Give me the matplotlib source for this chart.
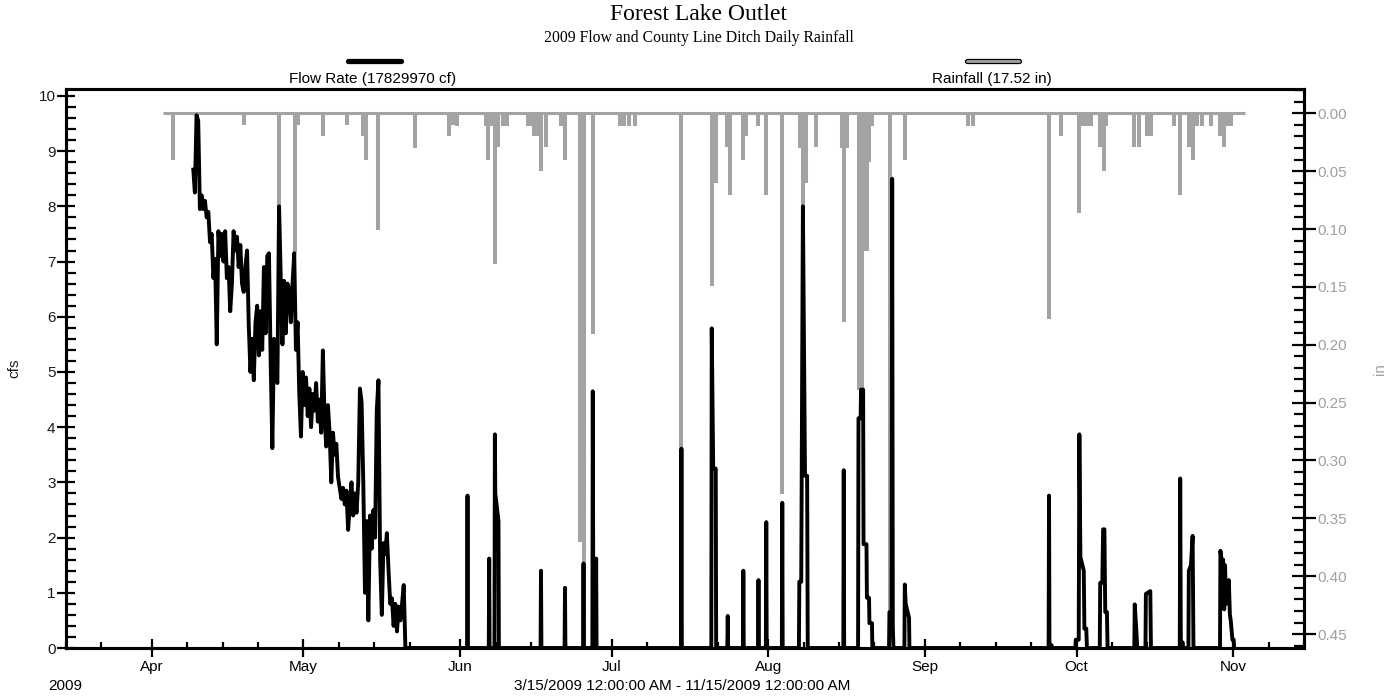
import matplotlib
matplotlib.use("Agg")
import matplotlib.pyplot as plt
import matplotlib.dates as mdates
from matplotlib.lines import Line2D
from matplotlib.ticker import MultipleLocator, FixedLocator, FuncFormatter
import pandas as pd
import numpy as np

plt.rcParams['font.family'] = ['Liberation Sans', 'DejaVu Sans']

# ---------------- text ----------------
title = "Forest Lake Outlet"
subtitle = "2009 Flow and County Line Ditch Daily Rainfall"
flow_label = "Flow Rate (17829970 cf)"
rain_label = "Rainfall (17.52 in)"
range_label = "3/15/2009 12:00:00 AM - 11/15/2009 12:00:00 AM"
year_label = "2009"
left_unit = "cfs"
right_unit = "in"
x_start, x_end = "2009-03-15", "2009-11-15"

# ---------------- flow: spring recession, 8-hourly readings ----------------
flow_recession_start = "2009-04-09 04:00"
flow_recession_step = "8h"
flow_recession = [
    8.7, 8.25, 9.65, 9.55, 7.95, 8.2, 7.95, 8.1, 7.8, 7.9,
    7.35, 7.5, 6.7, 7.05, 5.5, 7.55, 7.1, 7.5, 7.0, 7.55,
    6.7, 6.9, 6.1, 6.6, 7.55, 7.2, 7.45, 6.9, 7.3, 6.6,
    6.45, 6.9, 7.2, 5.85, 5.0, 5.6, 4.85, 5.9, 6.2, 5.3,
    6.1, 5.4, 6.9, 5.7, 7.1, 7.15, 5.2, 3.62, 5.6, 5.0,
    4.8, 8.0, 6.7, 5.5, 6.65, 5.7, 6.6, 6.5, 5.9, 6.6,
    7.15, 5.4, 5.9, 4.6, 3.83, 5.0, 4.4, 4.9, 4.2, 4.7,
    4.0, 4.6, 4.3, 4.8, 4.1, 4.5, 3.9, 5.39, 4.2, 3.65,
    4.4, 3.9, 3.0, 3.9, 3.5, 3.7, 3.1, 2.9, 2.7, 2.9,
    2.6, 2.85, 2.14, 2.6, 3.0, 2.4, 2.8, 2.45, 3.0, 4.7,
    4.45, 3.0, 1.0, 2.3, 0.5, 2.4, 1.8, 2.5, 2.0, 4.3,
    4.85, 1.6, 0.6, 1.9, 1.7, 2.08, 1.4, 0.8, 0.9, 0.4,
    0.8, 0.3, 0.75, 0.5, 0.8, 1.14, 0.0]

# ---------------- flow: summer / fall storm events ----------------
flow_event_times = [
    "06-02 09:00", "06-02 11:00", "06-02 13:00",
    "06-06 16:00", "06-06 18:00", "06-06 20:00",
    "06-07 19:00", "06-07 21:00", "06-07 23:00", "06-08 14:00", "06-08 16:00",
    "06-16 22:00", "06-17 00:00", "06-17 02:00",
    "06-21 16:00", "06-21 18:00", "06-21 20:00",
    "06-25 08:00", "06-25 10:00", "06-25 12:00",
    "06-27 04:00", "06-27 06:00", "06-27 09:00", "06-27 20:00", "06-27 22:00", "06-28 00:00",
    "07-14 17:00", "07-14 19:00", "07-14 21:00",
    "07-20 17:00", "07-20 19:00", "07-21 02:00", "07-21 14:00", "07-21 16:00",
    "07-23 21:00", "07-23 23:00", "07-24 01:00",
    "07-26 23:00", "07-27 01:00", "07-27 03:00",
    "07-29 23:00", "07-30 01:00", "07-30 03:00",
    "07-31 12:00", "07-31 14:00", "07-31 16:00",
    "08-03 16:00", "08-03 18:00", "08-03 20:00",
    "08-07 01:00", "08-07 03:00", "08-07 12:00", "08-07 20:00", "08-08 06:00", "08-08 16:00", "08-08 19:00",
    "08-15 20:00", "08-15 22:00", "08-16 00:00",
    "08-18 18:00", "08-18 20:00", "08-19 06:00", "08-19 08:00", "08-19 18:00", "08-19 20:00",
    "08-20 10:00", "08-20 12:00", "08-20 22:00", "08-21 00:00", "08-21 12:00", "08-21 14:00",
    "08-24 21:00", "08-24 23:00", "08-25 09:00", "08-25 12:00", "08-25 15:00", "08-25 18:00",
    "08-27 22:00", "08-28 00:00", "08-28 04:00", "08-28 20:00", "08-28 22:00",
    "09-25 11:00", "09-25 13:00", "09-25 15:00", "09-26 01:00", "09-26 03:00",
    "09-30 18:00", "09-30 20:00", "10-01 10:00", "10-01 13:00", "10-01 18:00", "10-02 10:00",
    "10-02 13:00", "10-02 22:00", "10-03 01:00",
    "10-05 14:00", "10-05 16:00", "10-06 02:00", "10-06 06:00", "10-06 12:00", "10-06 16:00",
    "10-07 00:00", "10-07 03:00",
    "10-12 10:00", "10-12 12:00", "10-12 20:00", "10-13 00:00",
    "10-14 15:00", "10-14 17:00", "10-15 14:00", "10-15 17:00",
    "10-21 10:00", "10-21 12:00", "10-21 15:00", "10-22 00:00", "10-22 02:00",
    "10-23 03:00", "10-23 05:00", "10-23 15:00", "10-23 23:00", "10-24 03:00",
    "10-29 09:00", "10-29 11:00", "10-29 20:00", "10-30 00:00", "10-30 05:00", "10-30 09:00",
    "10-30 14:00", "10-31 03:00", "10-31 08:00", "10-31 12:00", "10-31 20:00", "11-01 02:00",
    "11-01 04:00"]
flow_event_vals = [
    0, 2.76, 0,
    0, 1.62, 0,
    0, 3.87, 2.8, 2.3, 0,
    0, 1.40, 0,
    0, 1.09, 0,
    0, 1.53, 0,
    0, 4.65, 0, 0, 1.62, 0,
    0, 3.61, 0,
    0, 5.79, 3.25, 3.25, 0,
    0, 0.58, 0,
    0, 1.40, 0,
    0, 1.23, 0,
    0, 2.28, 0,
    0, 2.63, 0,
    0, 1.2, 1.2, 8.0, 3.12, 3.12, 0,
    0, 3.22, 0,
    0, 4.16, 4.16, 4.68, 4.68, 1.88,
    1.88, 0.91, 0.91, 0.45, 0.45, 0,
    0, 0.65, 0.65, 8.5, 0.4, 0,
    0, 1.15, 0.8, 0.55, 0,
    0, 2.76, 0.05, 0.05, 0,
    0, 0.15, 0.15, 3.87, 1.65, 1.4,
    0.35, 0.35, 0,
    0, 1.18, 1.18, 2.15, 2.15, 0.65,
    0.65, 0,
    0, 0.79, 0.3, 0,
    0, 0.98, 1.03, 0,
    0, 3.07, 0.1, 0.1, 0,
    0, 1.4, 1.5, 2.03, 0,
    0, 1.76, 1.5, 1.6, 0.7, 1.5,
    0.8, 1.23, 0.6, 0.5, 0.15, 0.15,
    0]

# ---------------- rainfall ----------------
rain_span = ["2009-04-03 04:00", "2009-11-03 10:00"]
rain_times = [
    "04-05 04:00", "04-19 04:00", "04-26 05:00", "04-29 06:00", "04-29 22:00",
    "05-04 22:00", "05-09 16:00", "05-12 17:00", "05-13 10:00", "05-15 19:00",
    "05-23 01:00", "05-29 19:00", "05-30 12:00", "05-31 11:00",
    "06-06 02:00", "06-06 12:00", "06-07 01:00", "06-07 20:00", "06-08 13:00",
    "06-09 10:00", "06-10 05:00", "06-14 10:00", "06-15 00:00", "06-15 14:00",
    "06-16 10:00", "06-16 23:00", "06-17 23:00", "06-21 00:00", "06-21 17:00",
    "06-24 19:00", "06-25 10:00", "06-27 05:00",
    "07-02 14:00", "07-03 12:00", "07-04 10:00", "07-05 14:00", "07-14 19:00",
    "07-20 19:00", "07-21 14:00", "07-23 20:00", "07-24 10:00", "07-26 23:00",
    "07-27 12:00", "07-29 22:00", "07-31 14:00",
    "08-03 18:00", "08-07 07:00", "08-07 20:00", "08-08 12:00", "08-10 12:00",
    "08-15 16:00", "08-16 00:00", "08-16 12:00", "08-19 00:00", "08-19 12:00",
    "08-20 02:00", "08-20 14:00", "08-21 00:00", "08-21 14:00", "08-25 04:00",
    "08-28 00:00",
    "09-09 14:00", "09-10 10:00", "09-25 13:00", "09-27 22:00",
    "10-01 13:00", "10-02 05:00", "10-03 00:00", "10-03 20:00", "10-05 14:00",
    "10-06 08:00", "10-06 21:00", "10-12 08:00", "10-13 08:00", "10-14 22:00",
    "10-15 17:00", "10-20 05:00", "10-21 12:00", "10-23 07:00", "10-23 23:00",
    "10-24 20:00", "10-25 20:00", "10-27 15:00", "10-29 10:00", "10-30 03:00",
    "10-30 19:00", "10-31 14:00"]
rain_vals = [
    0.040, 0.010, 0.082, 0.121, 0.010,
    0.020, 0.010, 0.020, 0.040, 0.101,
    0.030, 0.020, 0.010, 0.011,
    0.011, 0.040, 0.011, 0.130, 0.029,
    0.011, 0.011, 0.011, 0.011, 0.020,
    0.020, 0.050, 0.029, 0.011, 0.040,
    0.370, 0.390, 0.191,
    0.011, 0.011, 0.011, 0.011, 0.290,
    0.149, 0.060, 0.029, 0.071, 0.040,
    0.020, 0.011, 0.071,
    0.329, 0.030, 0.082, 0.060, 0.029,
    0.030, 0.180, 0.030, 0.239, 0.239,
    0.119, 0.119, 0.042, 0.011, 0.439,
    0.040,
    0.011, 0.011, 0.178, 0.020,
    0.086, 0.011, 0.011, 0.011, 0.029,
    0.050, 0.011, 0.029, 0.029, 0.020,
    0.020, 0.011, 0.071, 0.029, 0.040,
    0.011, 0.011, 0.011, 0.020, 0.029,
    0.011, 0.011]

# axis scales
flow_lim = (0, 10.12)
flow_major = list(range(0, 11))
rain_lim = (0.462, -0.0207)
rain_major = [0.00, 0.05, 0.10, 0.15, 0.20, 0.25, 0.30, 0.35, 0.40, 0.45]

# ---------------- build series ----------------
t_rec = pd.date_range(flow_recession_start, periods=len(flow_recession), freq=flow_recession_step)
t_evt = pd.to_datetime(["2009-" + s for s in flow_event_times])
flow_t = list(t_rec) + list(t_evt)
flow_v = list(flow_recession) + list(flow_event_vals)
rain_t = pd.to_datetime(["2009-" + s for s in rain_times])
rspan = pd.to_datetime(rain_span)

GRAY = "#a3a3a6"
LABEL_GRAY = "#a0a0a0"

W, H = 1398, 696
fig = plt.figure(figsize=(W / 100, H / 100), dpi=100)
L, R, T, B = 66, 1304, 89.3, 648
ax = fig.add_axes([L / W, (H - B) / H, (R - L) / W, (B - T) / H])
ax2 = ax.twinx()
ax.set_zorder(ax2.get_zorder() + 1)
ax.patch.set_visible(False)

# rainfall (right axis, inverted)
ax2.hlines(0, rspan[0], rspan[1], color=GRAY, lw=2.2)
ax2.vlines(rain_t, 0, rain_vals, color=GRAY, lw=2.9, capstyle='butt')
ax2.set_ylim(*rain_lim)

# flow (left axis)
ax.plot(flow_t, flow_v, color='black', lw=2.8, solid_joinstyle='round', solid_capstyle='butt')
ax.set_ylim(*flow_lim)
ax.set_xlim(pd.Timestamp(x_start), pd.Timestamp(x_end))

# spines
for a in (ax, ax2):
    for s in a.spines.values():
        s.set_linewidth(2.2)
        s.set_color('black')

# x ticks
ax.xaxis.set_major_locator(mdates.MonthLocator())
ax.xaxis.set_major_formatter(mdates.DateFormatter('%b'))
ax.xaxis.set_minor_locator(mdates.DayLocator(bymonthday=[8, 15, 22]))
ax.tick_params(axis='x', which='major', direction='inout', length=13, width=1.6,
               labelsize=11, pad=2, colors='black')
ax.tick_params(axis='x', which='minor', direction='in', length=4, width=1.6)

# left y ticks
ax.yaxis.set_major_locator(FixedLocator(flow_major))
ax.yaxis.set_minor_locator(MultipleLocator(0.2))
ax.tick_params(axis='y', which='major', direction='inout', length=13, width=1.6,
               labelsize=11, pad=1, labelcolor='#1a1a1a', right=False)
ax.tick_params(axis='y', which='minor', direction='in', length=7, width=1.6, right=False)

# right y ticks
ax2.yaxis.set_major_locator(FixedLocator(rain_major))
ax2.yaxis.set_minor_locator(MultipleLocator(0.01))
ax2.yaxis.set_major_formatter(FuncFormatter(lambda v, p: f"{abs(v) if abs(v) < 1e-9 else v:.2f}"))
ax2.tick_params(axis='y', which='major', direction='inout', length=17, width=1.6,
                labelsize=11, pad=1, labelcolor=LABEL_GRAY, color='black')
ax2.tick_params(axis='y', which='minor', direction='in', length=7, width=1.6, color='black')

# axis unit labels
ax.text((14 - L) / (R - L), 0.5, left_unit, transform=ax.transAxes, rotation=90,
        ha='center', va='center', fontsize=11, color='#1a1a1a')
ax.text((1380 - L) / (R - L), 0.5, right_unit, transform=ax.transAxes, rotation=90,
        ha='center', va='center', fontsize=11, color=LABEL_GRAY)

# titles
fig.text(0.5, 1 - 14.5 / H, title, ha='center', va='center', fontsize=17,
         family=['Liberation Serif', 'DejaVu Serif'])
fig.text(0.5, 1 - 38 / H, subtitle, ha='center', va='center', fontsize=11.3,
         family=['Liberation Serif', 'DejaVu Serif'])

# legend entries above plot
ly_bar = (B - 60.5) / (B - T)
ly_txt = (B - 78.5) / (B - T)
ax.add_line(Line2D([0.228, 0.271], [ly_bar, ly_bar], transform=ax.transAxes, color='black',
                   lw=3.8, solid_capstyle='round', clip_on=False))
ax.text(0.248, ly_txt, flow_label, transform=ax.transAxes, ha='center', va='center', fontsize=11)
ax.add_line(Line2D([0.7275, 0.7695], [ly_bar, ly_bar], transform=ax.transAxes, color='black',
                   lw=3.8, solid_capstyle='round', clip_on=False))
ax.add_line(Line2D([0.7275, 0.7695], [ly_bar, ly_bar], transform=ax.transAxes, color=GRAY,
                   lw=2.0, solid_capstyle='round', clip_on=False))
ax.text(0.748, ly_txt, rain_label, transform=ax.transAxes, ha='center', va='center', fontsize=11)

# bottom texts
fig.text(48 / W, 1 - 686.5 / H, year_label, ha='left', va='center', fontsize=11)
fig.text(682 / W, 1 - 686.5 / H, range_label, ha='center', va='center', fontsize=11)

fig.savefig("out.png", dpi=100)
